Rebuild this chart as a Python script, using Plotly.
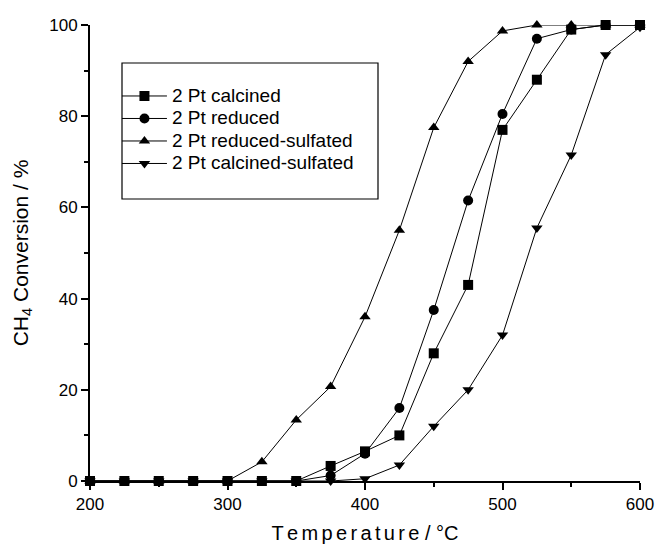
import plotly.graph_objects as go

temps = [200, 225, 250, 275, 300, 325, 350, 375, 400, 425, 450, 475, 500, 525, 550, 575, 600]
calcined = [0, 0, 0, 0, 0, 0, 0, 3.3, 6.5, 10, 28, 43, 77, 88, 99, 100, 100]
reduced = [0, 0, 0, 0, 0, 0, 0, 1.2, 6, 16, 37.5, 61.5, 80.5, 97, 99, 100, 100]
reduced_sulfated = [0, 0, 0, 0, 0, 4.2, 13.4, 20.7, 36, 55, 77.5, 92, 98.7, 100, 100, 100, 100]
calcined_sulfated = [0, 0, 0, 0, 0, 0, 0, 0, 0.5, 3.5, 12, 20, 32, 55.5, 71.5, 93.5, 99.5]

series = [
    ("2 Pt calcined", calcined, "square"),
    ("2 Pt reduced", reduced, "circle"),
    ("2 Pt reduced-sulfated", reduced_sulfated, "triangle-up"),
    ("2 Pt calcined-sulfated", calcined_sulfated, "triangle-down"),
]

fig = go.Figure()
for name, vals, sym in series:
    fig.add_trace(go.Scatter(
        x=temps, y=vals, name="<span style='font-size:19px'>" + name + "</span>",
        mode="lines+markers",
        line=dict(color="black", width=1),
        marker=dict(symbol=sym, size=10, color="black"),
        cliponaxis=False,
    ))

font = "Liberation Sans, Arial, sans-serif"
hs = "\u200a\u200a"
xtitle = hs.join(list("Temperature")) + " / °C"
fig.update_layout(
    width=656, height=544,
    margin=dict(l=90, r=16, t=25, b=63),
    paper_bgcolor="white", plot_bgcolor="white",
    font=dict(family=font, color="black", size=17),
    showlegend=True,
    legend=dict(x=0.049, y=0.880, xanchor="left", yanchor="top",
                bgcolor="rgba(0,0,0,0)", borderwidth=0,
                font=dict(size=15, family=font), itemwidth=45,
                tracegroupgap=0),
    xaxis=dict(range=[200, 600], showgrid=False, zeroline=False, automargin=False,
               showline=True, linecolor="black", linewidth=2,
               ticks="outside", ticklen=7, tickwidth=2, tickcolor="black",
               tickvals=[200, 300, 400, 500, 600],
               minor=dict(tickvals=[250, 350, 450, 550], ticks="outside", ticklen=4, tickcolor="black", tickwidth=2),
               tickfont=dict(size=17),
               title=dict(text=xtitle, font=dict(size=20))),
    yaxis=dict(range=[0, 100], showgrid=False, zeroline=False, automargin=False,
               showline=True, linecolor="black", linewidth=2,
               ticks="outside", ticklen=7, tickwidth=2, tickcolor="black",
               tickvals=[0, 20, 40, 60, 80, 100],
               minor=dict(tickvals=[10, 30, 50, 70, 90], ticks="outside", ticklen=4, tickcolor="black", tickwidth=2),
               tickfont=dict(size=17),
               title=dict(text="CH<sub>4</sub> Conversion / %", font=dict(size=21))),
    shapes=[dict(type="rect", xref="paper", yref="paper",
                 x0=(122 - 90) / 550, x1=(378 - 90) / 550,
                 y0=(481 - 199) / 456, y1=(481 - 63) / 456,
                 line=dict(color="black", width=1.2), fillcolor="rgba(0,0,0,0)")],
)

fig.write_html("out.html", config={"displayModeBar": False},
               post_script="document.body.style.margin='0px';")
